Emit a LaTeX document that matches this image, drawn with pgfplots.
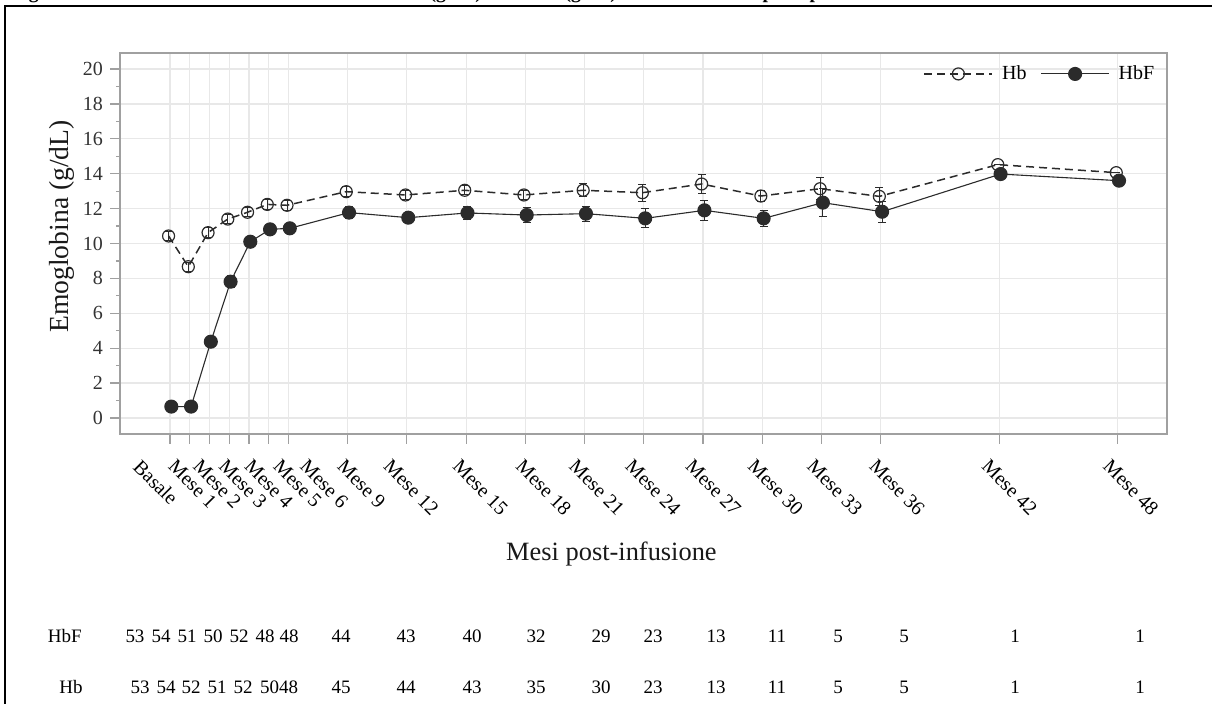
\documentclass[border=0pt]{standalone}
\usepackage{fontspec}
\setmainfont{Liberation Serif}
\usepackage{pgfplots}
\usepackage{pgfplotstable}
\pgfplotsset{compat=1.18}
\definecolor{axgray}{HTML}{A0A0A0}
\definecolor{gridgray}{HTML}{E8E8E8}
\definecolor{dk}{HTML}{2B2B2B}
\definecolor{txt}{HTML}{333333}

% horizontal offset (pt) of each rotated tick label, as in the reference
\newcommand{\xlblshift}[1]{\ifcase#1 -14\or -6.5\or -4\or -1\or 2\or 6.5\or 10\or -1\or -7.5\or -2.5\or -0.5\or -3.5\or -5\or -4.5\or -3\or -3\or -1.5\or -4.5\or -3\else 0\fi}

\pgfplotstableread{
m   v      e
0   10.43  0.25
1   8.67   0.25
2   10.62  0.30
3   11.40  0.25
4   11.79  0.25
5   12.24  0.30
6   12.19  0.30
9   12.97  0.30
12  12.78  0.25
15  13.05  0.26
18  12.78  0.25
21  13.05  0.38
24  12.91  0.48
27  13.41  0.52
30  12.72  0.34
33  13.14  0.62
36  12.70  0.50
42  14.52  0
48  14.06  0
}\hbdata

\pgfplotstableread{
m   v      e
0   0.65   0.10
1   0.65   0.10
2   4.37   0.30
3   7.81   0.35
4   10.10  0.25
5   10.81  0.30
6   10.87  0.30
9   11.77  0.35
12  11.48  0.25
15  11.75  0.38
18  11.63  0.41
21  11.71  0.43
24  11.44  0.55
27  11.90  0.57
30  11.44  0.46
33  12.34  0.79
36  11.82  0.61
42  13.98  0
48  13.60  0
}\hbfdata

\begin{document}
\begin{tikzpicture}
\useasboundingbox (0pt,0pt) rectangle (606pt,352pt);
% frame of the page cell
\draw[line width=1.1pt] (2.5pt,0pt) -- (2.5pt,349pt) -- (606pt,349pt);
% title, cut off at the top edge
\node[anchor=base west, inner sep=0pt, font=\bfseries\fontsize{9.8}{12}\selectfont] at (5.5pt,352.9pt)
  {Figura 5: Andamento dei livelli medi di Hb totale (g/dL) e di HbF (g/dL) nel corso del tempo in pazienti};

\begin{axis}[
  at={(60pt,135pt)}, anchor=south west,
  width=523.5pt, height=190.5pt, scale only axis,
  xmin=-2.53, xmax=50.5, ymin=-0.92, ymax=20.92,
  xtick={0,1,2,3,4,5,6,9,12,15,18,21,24,27,30,33,36,42,48},
  xticklabels={Basale,Mese 1,Mese 2,Mese 3,Mese 4,Mese 5,Mese 6,Mese 9,Mese 12,Mese 15,Mese 18,Mese 21,Mese 24,Mese 27,Mese 30,Mese 33,Mese 36,Mese 42,Mese 48},
  ytick={0,2,...,20},
  minor y tick num=1,
  tick align=outside,
  xtick pos=lower, ytick pos=left,
  major tick length=5pt, minor tick length=2pt,
  tick style={axgray, line width=0.6pt},
  axis line style={axgray, line width=0.7pt},
  xmajorgrids, ymajorgrids,
  major grid style={gridgray, line width=0.6pt},
  /pgf/number format/assume math mode=true,
  yticklabel style={font=\fontsize{10}{12}\selectfont, text=txt},
  xticklabel style={font=\fontsize{10}{12}\selectfont, text=black, inner sep=0pt,
    /utils/exec={\edef\myxs{\xlblshift{\ticknum}}},
    xshift=\myxs pt, yshift=-7pt, rotate=-45, anchor=north west},
  every axis y label/.style={at={(axis description cs:-0.0554,0.5446)}, rotate=90, anchor=center},
  every axis x label/.style={at={(axis description cs:0.4694,-0.315)}, anchor=center},
  ylabel={Emoglobina (g/dL)},
  xlabel={Mesi post-infusione},
  ylabel style={font=\fontsize{13.8}{16}\selectfont, text=black!90},
  xlabel style={font=\fontsize{13.2}{16}\selectfont, text=black!90},
  clip=false,
  legend columns=2,
  legend style={at={(axis description cs:0.992,0.945)}, anchor=east, draw=none, fill=none,
    font=\fontsize{10}{12}\selectfont, inner sep=0pt,
    /tikz/every odd column/.append style={column sep=2.5pt},
    /tikz/every even column/.append style={column sep=5pt}},
  legend image code/.code={
    \draw[mark repeat=2, mark phase=2, #1] plot coordinates {(0pt,0pt) (17pt,0pt) (34pt,0pt)};
  },
]
\addplot[dk, line width=0.75pt, dash pattern=on 4pt off 2.5pt,
  mark=o, mark size=3pt, mark options={solid, line width=0.6pt},
  error bars/.cd, y dir=both, y explicit,
  error bar style={solid, line width=0.5pt, dk},
  error mark options={rotate=90, mark size=2pt, line width=0.5pt, dk}]
  table[x expr=\thisrow{m}-0.07, y=v, y error=e] {\hbdata};
\addlegendentry{Hb}
\addplot[dk, line width=0.55pt,
  mark=*, mark size=3.25pt, mark options={solid, fill=dk},
  error bars/.cd, y dir=both, y explicit,
  error bar style={solid, line width=0.5pt, dk},
  error mark options={rotate=90, mark size=2pt, line width=0.5pt, dk}]
  table[x expr=\thisrow{m}+0.07, y=v, y error=e] {\hbfdata};
\addlegendentry{HbF}
\end{axis}

% at-risk table below the chart
\begin{scope}[every node/.style={font=\fontsize{9.5}{12}\selectfont, inner sep=0pt}]
\node[anchor=east] at (41pt,34pt) {HbF};
\node at (67.5pt,34pt) {53};
\node at (80.5pt,34pt) {54};
\node at (93.5pt,34pt) {51};
\node at (106.5pt,34pt) {50};
\node at (119.5pt,34pt) {52};
\node at (132.5pt,34pt) {48};
\node at (144.5pt,34pt) {48};
\node at (170.5pt,34pt) {44};
\node at (203pt,34pt) {43};
\node at (236pt,34pt) {40};
\node at (268pt,34pt) {32};
\node at (300.5pt,34pt) {29};
\node at (326.5pt,34pt) {23};
\node at (358pt,34pt) {13};
\node at (388.5pt,34pt) {11};
\node at (419pt,34pt) {5};
\node at (452pt,34pt) {5};
\node at (507.5pt,34pt) {1};
\node at (570pt,34pt) {1};
\node[anchor=east] at (41.5pt,8.5pt) {Hb};
\node at (70pt,8.5pt) {53};
\node at (83pt,8.5pt) {54};
\node at (95.5pt,8.5pt) {52};
\node at (108.5pt,8.5pt) {51};
\node at (121.5pt,8.5pt) {52};
\node at (139.5pt,8.5pt) {5048};
\node at (170.5pt,8.5pt) {45};
\node at (203pt,8.5pt) {44};
\node at (236pt,8.5pt) {43};
\node at (268pt,8.5pt) {35};
\node at (300.5pt,8.5pt) {30};
\node at (326.5pt,8.5pt) {23};
\node at (358pt,8.5pt) {13};
\node at (388.5pt,8.5pt) {11};
\node at (419pt,8.5pt) {5};
\node at (452pt,8.5pt) {5};
\node at (507.5pt,8.5pt) {1};
\node at (570pt,8.5pt) {1};
\end{scope}
\end{tikzpicture}
\end{document}
